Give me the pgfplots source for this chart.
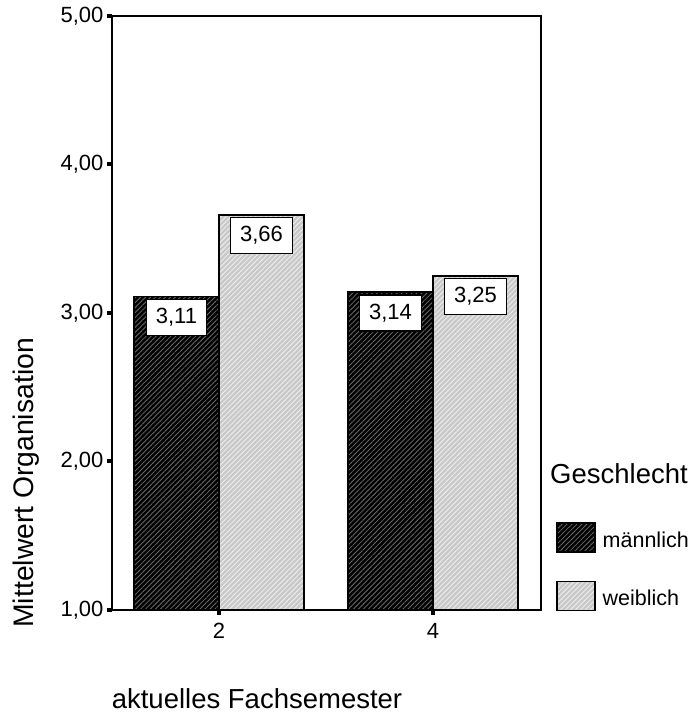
\documentclass[border=0pt]{standalone}
\usepackage{fontspec}
\setmainfont{Liberation Sans}
\usepackage{pgfplots}
\pgfplotsset{compat=1.18}
\usetikzlibrary{patterns.meta}

\definecolor{maleline}{gray}{0.42}
\definecolor{femalefill}{gray}{0.79}
\definecolor{femaleline}{gray}{0.94}

\newcommand\ticksize{\fontsize{22}{25}\selectfont}
\newcommand\labelsize{\fontsize{27.5}{30}\selectfont}

\pgfplotsset{
  swatch/.style={
    legend image code/.code={\draw[##1] (0pt,-12pt) rectangle (38pt,17pt);}
  },
  male bar/.style={
    preaction={fill=black},
    pattern={Lines[angle=45,distance=3.5pt,line width=0.8pt]},
    pattern color=maleline,
    draw=black, line width=1.5pt, swatch
  },
  female bar/.style={
    preaction={fill=femalefill},
    pattern={Lines[angle=45,distance=3.5pt,line width=0.8pt]},
    pattern color=femaleline,
    draw=black, line width=1.5pt, swatch
  },
}

\begin{document}
\begin{tikzpicture}
\useasboundingbox (0,0) rectangle (691pt,715pt);
\begin{axis}[
  at={(112pt,105pt)}, anchor=south west,
  scale only axis, width=429pt, height=594pt,
  ybar=0pt, bar width=85pt,
  xmin=-0.5, xmax=1.505, ymin=1, ymax=5,
  xtick={0,1}, xticklabels={2,4},
  ytick={1,2,3,4,5},
  xtick pos=lower, ytick pos=left,
  axis line style={line width=1.5pt},
  tick align=outside, major tick length=5pt,
  tick style={line width=4pt, black},
  tick label style={font=\ticksize},
  xticklabel style={yshift=-5pt},
  /pgf/number format/.cd, fixed, fixed zerofill, precision=2, use comma,
  assume math mode=true, /pgfplots/.cd,
  xlabel={aktuelles Fachsemester},
  xlabel style={at={(axis description cs:0.338,-0.165)}, anchor=base,
    font=\labelsize, inner sep=0pt},
  ylabel={Mittelwert Organisation},
  ylabel style={at={(axis description cs:-0.184,0.214)}, anchor=base,
    font=\fontsize{28.3}{31}\selectfont, inner sep=0pt},
  nodes near coords={\pgfmathprintnumber{\pgfplotspointmeta}},
  every node near coord/.append style={anchor=north, yshift=-2pt,
    draw=black, fill=white, line width=1.3pt, inner xsep=9.5pt,
    inner ysep=0pt, minimum height=36pt, font=\ticksize, text=black},
  legend style={at={(axis description cs:1.035,0.148)}, anchor=north west,
    draw=none, fill=none, inner sep=0pt, row sep=28pt, column sep=7pt,
    nodes={inner sep=0pt}, font=\fontsize{21.5}{24}\selectfont},
  legend cell align=left,
]
\addplot[male bar] coordinates {(0,3.11) (1,3.14)};
\addplot[female bar] coordinates {(0,3.66) (1,3.25)};
\legend{männlich, weiblich}
\end{axis}
\node[anchor=base west, inner sep=0pt, font=\labelsize] at (550pt,231pt) {Geschlecht};
\end{tikzpicture}
\end{document}
